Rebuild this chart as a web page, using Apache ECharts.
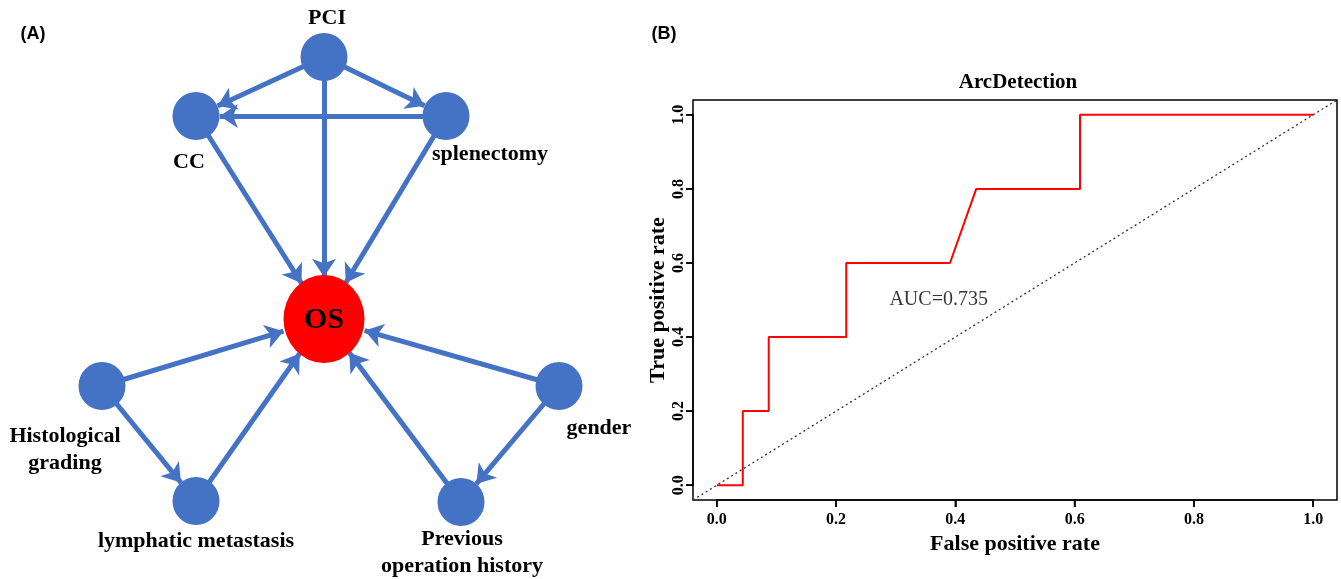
<!DOCTYPE html>
<html>
<head>
<meta charset="utf-8">
<script src="https://cdn.jsdelivr.net/npm/echarts@6/dist/echarts.min.js"></script>
<style>
html,body{margin:0;padding:0;background:#fff;}
#chart{width:1341px;height:579px;}
</style>
</head>
<body>
<div id="chart"></div>
<script>
// ---------- Panel A: network (layout coordinates) ----------
const nodeNames = ['PCI', 'CC', 'splenectomy', 'OS', 'Histological grading', 'lymphatic metastasis', 'gender', 'Previous operation history'];
const nodeLabels = ['PCI', 'CC', 'splenectomy', 'OS', 'Histological\ngrading', 'lymphatic metastasis', 'gender', 'Previous\noperation history'];
const nodeX = [324, 196, 446, 324, 102, 196, 559, 461];
const nodeY = [57, 116, 116, 319, 386, 501, 386, 502];
const edgeSource = ['PCI', 'PCI', 'PCI', 'splenectomy', 'CC', 'splenectomy', 'Histological grading', 'Histological grading', 'lymphatic metastasis', 'gender', 'gender', 'Previous operation history'];
const edgeTarget = ['CC', 'splenectomy', 'OS', 'CC', 'OS', 'OS', 'OS', 'lymphatic metastasis', 'OS', 'OS', 'Previous operation history', 'OS'];

// ---------- Panel B: ROC curve ----------
const rocFPR = [0, 0.0435, 0.0435, 0.087, 0.087, 0.217, 0.217, 0.391, 0.435, 0.609, 0.609, 1.0];
const rocTPR = [0, 0, 0.2, 0.2, 0.4, 0.4, 0.6, 0.6, 0.8, 0.8, 1.0, 1.0];
const refLine = [[-0.04, -0.04], [1.04, 1.04]];
const tickValues = [0, 0.2, 0.4, 0.6, 0.8, 1.0];
const tickLabels = ['0.0', '0.2', '0.4', '0.6', '0.8', '1.0'];
const aucText = 'AUC=0.735';
const aucPos = [0.372, 0.5];

// ---------- styles / geometry ----------
const BLUE = '#4472C4';
const SERIF = '"Liberation Serif", "Times New Roman", serif';
const PAD = 0.04; // R-style 4% axis extension
const box = {left: 693, right: 4, top: 100, bottom: 79, w: 1341 - 693 - 4, h: 579 - 100 - 79};
const ux = box.w / (1 + 2 * PAD), uy = box.h / (1 + 2 * PAD);
const inner = {left: box.left + PAD * ux, right: box.right + PAD * ux, top: box.top + PAD * uy, bottom: box.bottom + PAD * uy};
const TICK = 7;

const labelStyle = {
  'PCI': {offset: [3, -39]},
  'CC': {offset: [-7, 46]},
  'splenectomy': {offset: [44, 38]},
  'OS': {offset: [0, 1], fontSize: 30},
  'Histological grading': {offset: [-37, 64]},
  'lymphatic metastasis': {offset: [0, 40]},
  'gender': {offset: [40, 42]},
  'Previous operation history': {offset: [1, 51]}
};

const graphNodes = nodeNames.map(function (n, i) {
  const isOS = n === 'OS';
  const ls = labelStyle[n];
  return {
    name: n,
    value: [nodeX[i], nodeY[i]],
    symbol: 'circle',
    symbolSize: isOS ? [81, 88] : [47, 48],
    itemStyle: {color: isOS ? '#FF0000' : BLUE},
    label: {
      show: true,
      formatter: nodeLabels[i],
      position: 'inside',
      offset: ls.offset,
      color: '#000',
      fontFamily: SERIF,
      fontWeight: 'bold',
      fontSize: ls.fontSize || 22,
      lineHeight: 27,
      align: 'center',
      verticalAlign: 'middle'
    }
  };
});
const graphLinks = edgeSource.map(function (s, i) {
  return {source: s, target: edgeTarget[i]};
});

const tickFmt = function (v) { return tickLabels[Math.round(v * 5)]; };
const labelFont = {color: '#000', fontFamily: SERIF, fontWeight: 'bold', fontSize: 16};
const nameFont = {fontFamily: SERIF, fontWeight: 'bold', fontSize: 22, color: '#000'};
const tickStyle = {show: true, inside: false, length: TICK, lineStyle: {color: '#000', width: 1.5}};

const chart = echarts.init(document.getElementById('chart'), null, {renderer: 'canvas'});
chart.setOption({
  animation: false,
  backgroundColor: '#fff',
  title: [
    {text: '(A)', left: 28, top: 20, textAlign: 'center',
     textStyle: {fontFamily: '"Liberation Sans", Arial, sans-serif', fontWeight: 'bold', fontSize: 18, color: '#000'}},
    {text: '(B)', left: 659, top: 20, textAlign: 'center',
     textStyle: {fontFamily: '"Liberation Sans", Arial, sans-serif', fontWeight: 'bold', fontSize: 18, color: '#000'}},
    {text: 'ArcDetection', left: 1013, top: 67, textAlign: 'center',
     textStyle: {fontFamily: SERIF, fontWeight: 'bold', fontSize: 21, color: '#000'}}
  ],
  grid: [
    {left: 0, top: 0, width: 640, height: 579, show: false},
    {left: box.left, right: box.right, top: box.top, bottom: box.bottom, show: true, borderColor: '#000', borderWidth: 1.5, backgroundColor: 'transparent'},
    {left: inner.left, right: inner.right, top: inner.top, bottom: inner.bottom, show: false}
  ],
  xAxis: [
    {gridIndex: 0, type: 'value', min: 0, max: 640, show: false},
    {gridIndex: 1, type: 'value', min: -PAD, max: 1 + PAD, show: false},
    {gridIndex: 2, type: 'value', min: 0, max: 1, interval: 0.2, offset: PAD * uy, position: 'bottom',
     splitLine: {show: false},
     axisLine: {show: true, onZero: false, lineStyle: {color: '#000', width: 1.5}},
     axisTick: tickStyle,
     axisLabel: Object.assign({margin: 12, formatter: tickFmt}, labelFont),
     name: 'False positive rate', nameLocation: 'middle', nameGap: 31, nameTextStyle: nameFont}
  ],
  yAxis: [
    {gridIndex: 0, type: 'value', min: 0, max: 579, inverse: true, show: false},
    {gridIndex: 1, type: 'value', min: -PAD, max: 1 + PAD, show: false},
    {gridIndex: 2, type: 'value', min: 0, max: 1, interval: 0.2, offset: PAD * ux, position: 'left',
     splitLine: {show: false},
     axisLine: {show: true, onZero: false, lineStyle: {color: '#000', width: 1.5}},
     axisTick: tickStyle,
     axisLabel: Object.assign({rotate: 90, margin: 6, formatter: tickFmt}, labelFont),
     name: 'True positive rate', nameLocation: 'middle', nameGap: 24, nameTextStyle: nameFont}
  ],
  series: [
    {
      type: 'graph',
      coordinateSystem: 'cartesian2d',
      xAxisIndex: 0, yAxisIndex: 0,
      layout: 'none',
      roam: false,
      data: graphNodes,
      links: graphLinks,
      edgeSymbol: ['none', 'arrow'],
      edgeSymbolSize: [0, 18],
      lineStyle: {color: BLUE, width: 5, opacity: 1, curveness: 0},
      emphasis: {disabled: true}
    },
    {
      type: 'line', xAxisIndex: 1, yAxisIndex: 1,
      data: refLine, symbol: 'none', silent: true,
      lineStyle: {color: '#333', width: 1.3, type: [2, 3]}
    },
    {
      type: 'line', xAxisIndex: 1, yAxisIndex: 1,
      data: rocFPR.map(function (x, i) { return [x, rocTPR[i]]; }),
      symbol: 'none', silent: true,
      lineStyle: {color: '#FF0000', width: 2}
    },
    {
      // x-axis tick marks (below the box, pointing outward)
      type: 'scatter', xAxisIndex: 1, yAxisIndex: 1, clip: false, silent: true, z: 10,
      data: tickValues.map(function (v) { return [v, -PAD]; }),
      symbol: 'rect', symbolSize: [1.6, TICK], symbolOffset: [0, TICK / 2],
      itemStyle: {color: '#000', opacity: 1}
    },
    {
      // y-axis tick marks (left of the box, pointing outward)
      type: 'scatter', xAxisIndex: 1, yAxisIndex: 1, clip: false, silent: true, z: 10,
      data: tickValues.map(function (v) { return [-PAD, v]; }),
      symbol: 'rect', symbolSize: [TICK, 1.6], symbolOffset: [-TICK / 2, 0],
      itemStyle: {color: '#000', opacity: 1}
    },
    {
      type: 'scatter', xAxisIndex: 1, yAxisIndex: 1,
      data: [aucPos], symbolSize: 1, itemStyle: {color: 'rgba(0,0,0,0)'}, silent: true,
      label: {show: true, position: 'inside', formatter: aucText, color: '#000',
              fontFamily: SERIF, fontWeight: 'normal', fontSize: 20}
    }
  ]
});
</script>
</body>
</html>
